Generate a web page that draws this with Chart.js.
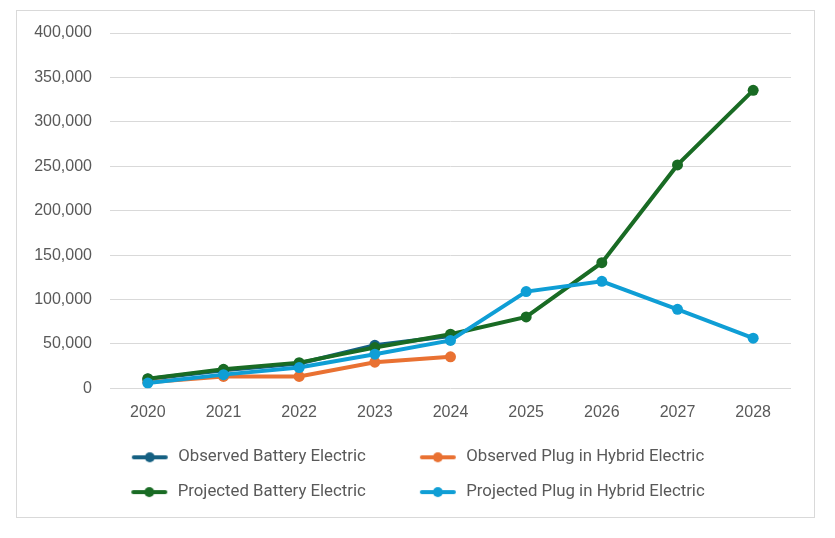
<!DOCTYPE html>
<html>
<head>
<meta charset="utf-8">
<script src="https://cdn.jsdelivr.net/npm/chart.js@4/dist/chart.umd.min.js"></script>
<style>
  body { margin: 0; background: #fff; }
  #box {
    position: absolute; left: 16px; top: 10px;
    width: 799px; height: 508px;
    border: 1px solid #d9d9d9; box-sizing: border-box;
  }
</style>
</head>
<body>
<div id="box"><canvas id="myChart"></canvas></div>
<script>

const years = ["2020", "2021", "2022", "2023", "2024", "2025", "2026", "2027", "2028"]

const observedBattery = [10500, 20500, 28000, 48500, 59000]
const observedPlugin = [7000, 13500, 13500, 29500, 35500]
const projectedBattery = [11000, 21500, 29000, 46000, 61000, 80500, 141500, 251500, 335500]
const projectedPlugin = [6000, 15500, 23500, 38500, 54000, 109000, 120500, 89000, 56500]

const seriesNames = [
	"Observed Battery Electric",
	"Observed Plug in Hybrid Electric",
	"Projected Battery Electric",
	"Projected Plug in Hybrid Electric"
]
const seriesColors = ["#156082", "#E97132", "#196B24", "#0F9ED5"]

const yTicks = [0, 50000, 100000, 150000, 200000, 250000, 300000, 350000, 400000]

// legend marker: short line with a dot, left side kept blank for spacing
let markerLeft = 36
let markerWidth = 74
let legendMarker = function(color){
	const c = document.createElement("canvas")
	c.width = markerWidth
	c.height = 12
	const g = c.getContext("2d")
	g.strokeStyle = color
	g.lineWidth = 4
	g.lineCap = "round"
	g.beginPath()
	g.moveTo(markerLeft + 2, 6)
	g.lineTo(markerLeft + 34, 6)
	g.stroke()
	g.fillStyle = color
	g.beginPath()
	g.arc(markerLeft + 18, 6, 5, 0, Math.PI * 2)
	g.fill()
	return c
}

let makeSet = function(i, values, order){
	return {
		label: seriesNames[i],
		data: values,
		borderColor: seriesColors[i],
		backgroundColor: seriesColors[i],
		pointBackgroundColor: seriesColors[i],
		borderWidth: 4,
		pointRadius: 5.5,
		pointBorderWidth: 0,
		pointHoverRadius: 5.5,
		tension: 0,
		order: order
	}
}

// nudge the legend a little to the left, like the original
const legendShift = {
	id: "legendShift",
	afterLayout: function(chart){
		if (chart.legend) {
			chart.legend.left -= 4
			chart.legend.right -= 4
		}
	}
}

const ctx = document.getElementById("myChart")

new Chart(ctx, {
	type: "line",
	data: {
		labels: years,
		datasets: [
			makeSet(0, observedBattery, 3),
			makeSet(1, observedPlugin, 2),
			makeSet(2, projectedBattery, 1),
			makeSet(3, projectedPlugin, 0)
		]
	},
	plugins: [legendShift],
	options: {
		responsive: true,
		maintainAspectRatio: false,
		animation: false,
		events: [],
		layout: {
			padding: { top: 22, left: 0, right: 23, bottom: 6.5 }
		},
		plugins: {
			tooltip: { enabled: false },
			legend: {
				position: "bottom",
				labels: {
					usePointStyle: true,
					pointStyleWidth: markerWidth,
					padding: 18,
					color: "#595959",
					font: { family: "Roboto", size: 16.8 },
					generateLabels: function(chart){
						return chart.data.datasets.map(function(ds, i){
							return {
								text: ds.label,
								pointStyle: legendMarker(seriesColors[i]),
								fillStyle: seriesColors[i],
								strokeStyle: seriesColors[i],
								lineWidth: 0,
								fontColor: "#595959",
								datasetIndex: i,
								hidden: false
							}
						})
					}
				}
			}
		},
		scales: {
			x: {
				offset: true,
				grid: { display: false },
				border: { display: false },
				ticks: {
					color: "#595959",
					padding: 7,
					font: { family: "Liberation Sans", size: 16 }
				},
				afterFit: function(scale){ scale.height = 42.5 }
			},
			y: {
				min: 0,
				max: 400000,
				afterBuildTicks: function(scale){
					scale.ticks = yTicks.map(function(v){ return { value: v } })
				},
				grid: { color: "#d9d9d9", lineWidth: 1, drawTicks: false },
				border: { display: false },
				ticks: {
					color: "#595959",
					padding: 18,
					font: { family: "Liberation Sans", size: 16 },
					callback: function(v){ return v.toLocaleString("en-US") }
				},
				afterFit: function(scale){
					scale.width = 93
					scale.paddingTop = 10
					scale.paddingBottom = 10
				}
			}
		}
	}
})

</script>
</body>
</html>
